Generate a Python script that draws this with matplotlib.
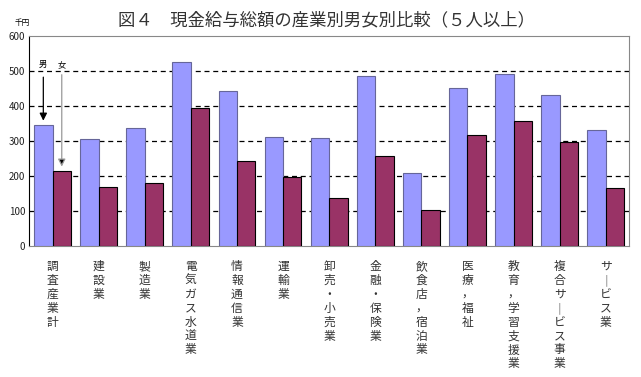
import matplotlib
matplotlib.use("Agg")
import matplotlib.pyplot as plt
import numpy as np

plt.rcParams['font.family'] = ['Noto Sans CJK JP', 'DejaVu Sans']

# 産業別（千円）
industries = ["調査産業計", "建設業", "製造業", "電気ガス水道業", "情報通信業", "運輸業",
              "卸売・小売業", "金融・保険業", "飲食店，宿泊業", "医療，福祉",
              "教育，学習支援業", "複合サービス事業", "サービス業"]
male = [345, 305, 336, 526, 443, 311, 308, 486, 208, 451, 491, 430, 331]
female = [214, 168, 179, 394, 242, 197, 136, 257, 103, 317, 356, 298, 165]
yticks = [0, 100, 200, 300, 400, 500, 600]

fig = plt.figure(figsize=(6.41, 3.77), dpi=100)
ax = fig.add_axes([0.046, 0.347, 0.935, 0.558])

x = np.arange(len(industries))
w = 0.4
ax.bar(x - w / 2, male, w, color="#9999FF", edgecolor="#666699", linewidth=0.8, zorder=3)
ax.bar(x + w / 2, female, w, color="#993366", edgecolor="black", linewidth=0.8, zorder=3)

ax.set_xlim(-0.5, len(industries) - 0.5)
ax.set_ylim(0, 600)
ax.set_yticks(yticks)
ax.set_yticklabels([str(v) for v in yticks], fontsize=7, color="#222222")
for v in yticks[1:-1]:
    ax.axhline(v, color="black", linestyle=(0, (4, 3)), linewidth=0.9, zorder=1)

ax.tick_params(axis="y", length=0, pad=3)
ax.set_xticks(x)
# 縦書きラベル
labels = ["\n".join(s.replace("ー", "｜")) for s in industries]
ax.set_xticklabels(labels, fontsize=8.5, linespacing=1.09, va="top", color="#333333")
ax.tick_params(axis="x", length=0, pad=10)

for side in ["top", "right"]:
    ax.spines[side].set_color("#888888")
ax.spines["left"].set_color("black")
ax.spines["bottom"].set_color("#888888")

# 男女の凡例代わりの矢印
ax.text(-w / 2, 505, "男", fontsize=6, ha="center", va="bottom")
ax.text(w / 2, 505, "女", fontsize=6, ha="center", va="bottom")
ax.annotate("", xy=(-w / 2, male[0] + 5), xytext=(-w / 2, 490),
            arrowprops=dict(arrowstyle="-|>", color="black", lw=0.9, mutation_scale=11))
ax.annotate("", xy=(w / 2, female[0] + 5), xytext=(w / 2, 497),
            arrowprops=dict(arrowstyle="-|>", color="#999999", lw=0.9, mutation_scale=11,
                            fc="black", ec="#999999"))

fig.text(0.034, 0.928, "千円", fontsize=5.5, ha="center", va="bottom")
fig.text(0.51, 0.945, "図４　現金給与総額の産業別男女別比較（５人以上）",
         fontsize=12.5, ha="center", va="center", color="#333333")

fig.savefig("out.png", dpi=100)
